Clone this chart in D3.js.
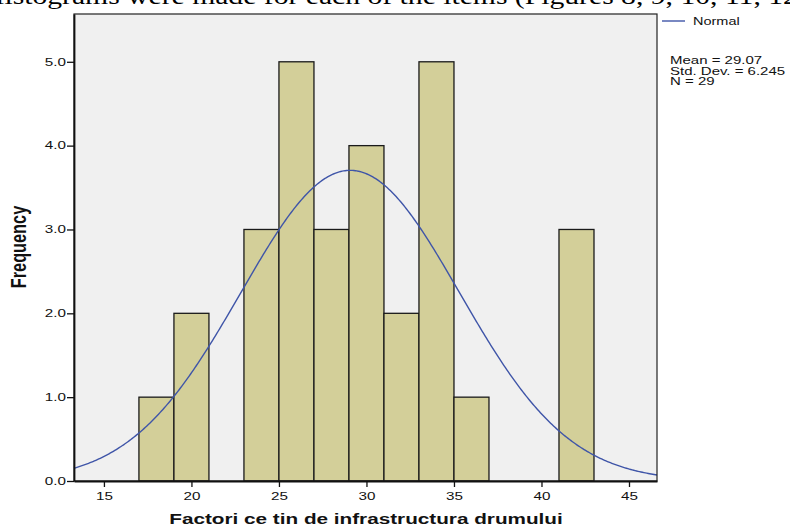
<!DOCTYPE html>
<html>
<head>
<meta charset="utf-8">
<script src="https://cdn.jsdelivr.net/npm/d3@7"></script>
<style>
  html, body { margin: 0; padding: 0; background: #fff; }
  svg { display: block; }
</style>
</head>
<body>
<svg id="chart" width="790" height="527"></svg>
<script>
// Histogram bins (lower edge, upper edge) and counts
const binStart = [17, 19, 23, 25, 27, 29, 31, 33, 35, 41];
const binEnd   = [19, 21, 25, 27, 29, 31, 33, 35, 37, 43];
const counts   = [1, 2, 3, 5, 3, 4, 2, 5, 1, 3];

// Summary statistics shown beside the plot
const mean = 29.07;
const stdDev = 6.245;
const n = 29;

const xTicks = [15, 20, 25, 30, 35, 40, 45];
const yTicks = [0, 1, 2, 3, 4, 5];

const xTitle = "Factori ce tin de infrastructura drumului";
const yTitle = "Frequency";
const legendLabel = "Normal";
const captionText = "Histograms were made for each of the items (Figures 8, 9, 10, 11, 12";

const stretch = 1.45; // horizontal stretch of the chart lettering

const svg = d3.select("#chart");
const plot = { left: 74, right: 657, top: 14, bottom: 481 };

const x = d3.scaleLinear().domain([13.29, 46.6]).range([plot.left, plot.right]);
const y = d3.scaleLinear().domain([0, 5.57]).range([plot.bottom, plot.top]);

// Body text line above the figure
svg.append("g")
  .attr("transform", "translate(-17,4) scale(1.236,1)")
  .append("text")
  .attr("font-family", "'Liberation Serif', 'Times New Roman', serif")
  .attr("font-size", 24)
  .attr("fill", "#000")
  .text(captionText);

// Plot background
svg.append("rect")
  .attr("x", plot.left).attr("y", plot.top)
  .attr("width", plot.right - plot.left).attr("height", plot.bottom - plot.top)
  .attr("fill", "#f0f0f0");

// Bars
const bins = counts.map((c, i) => ({ x0: binStart[i], x1: binEnd[i], count: c }));
svg.append("g").selectAll("rect").data(bins).join("rect")
  .attr("x", d => x(d.x0))
  .attr("y", d => y(d.count))
  .attr("width", d => x(d.x1) - x(d.x0))
  .attr("height", d => y(0) - y(d.count))
  .attr("fill", "#d3cf99")
  .attr("stroke", "#1a1a1a")
  .attr("stroke-width", 1.3);

// Normal curve scaled to the bin width and sample size
const binWidth = 2;
const normal = v => n * binWidth * Math.exp(-0.5 * ((v - mean) / stdDev) ** 2) / (stdDev * Math.sqrt(2 * Math.PI));
const curvePts = d3.range(0, 401).map(i => {
  const v = x.domain()[0] + (x.domain()[1] - x.domain()[0]) * i / 400;
  return [v, normal(v)];
});
svg.append("path")
  .datum(curvePts)
  .attr("fill", "none")
  .attr("stroke", "#3f55a8")
  .attr("stroke-width", 1.4)
  .attr("d", d3.line().x(d => x(d[0])).y(d => y(d[1])));

// Frame
svg.append("rect")
  .attr("x", plot.left).attr("y", plot.top)
  .attr("width", plot.right - plot.left).attr("height", plot.bottom - plot.top)
  .attr("fill", "none")
  .attr("stroke", "#222")
  .attr("stroke-width", 1.2);

const labelFont = "'Liberation Sans', Arial, sans-serif";

// Y axis
const yAxis = svg.append("g")
  .attr("transform", `translate(${plot.left},0)`)
  .call(d3.axisLeft(y).tickValues(yTicks).tickFormat(d3.format(".1f")).tickSize(7).tickSizeOuter(0));
yAxis.select(".domain").attr("stroke", "#111").attr("stroke-width", 1.8);
yAxis.selectAll(".tick line").attr("stroke", "#111").attr("stroke-width", 1.3);
yAxis.selectAll(".tick text")
  .attr("x", 0)
  .attr("transform", `translate(-8,0) scale(${stretch},1)`)
  .attr("font-family", labelFont)
  .attr("font-size", 10.5)
  .attr("fill", "#111");

// X axis
const xAxis = svg.append("g")
  .attr("transform", `translate(0,${plot.bottom})`)
  .call(d3.axisBottom(x).tickValues(xTicks).tickFormat(d3.format("d")).tickSize(6).tickSizeOuter(0));
xAxis.select(".domain").attr("stroke", "#111").attr("stroke-width", 1.8);
xAxis.selectAll(".tick line").attr("stroke", "#111").attr("stroke-width", 1.3);
xAxis.selectAll(".tick text")
  .attr("y", 0).attr("dy", 0)
  .attr("transform", `translate(0,19) scale(${stretch},1)`)
  .attr("font-family", labelFont)
  .attr("font-size", 10.5)
  .attr("fill", "#111");

// Axis titles
svg.append("g")
  .attr("transform", `translate(366,524) scale(1.48,1)`)
  .append("text")
  .attr("text-anchor", "middle")
  .attr("font-family", labelFont)
  .attr("font-weight", "bold")
  .attr("font-size", 14)
  .attr("fill", "#111")
  .text(xTitle);

svg.append("g")
  .attr("transform", `translate(26,247) scale(1.3,1)`)
  .append("text")
  .attr("transform", "rotate(-90)")
  .attr("text-anchor", "middle")
  .attr("font-family", labelFont)
  .attr("font-weight", "bold")
  .attr("font-size", 16.3)
  .attr("fill", "#111")
  .text(yTitle);

// Legend
svg.append("line")
  .attr("x1", 662).attr("x2", 685).attr("y1", 21).attr("y2", 21)
  .attr("stroke", "#3f55a8").attr("stroke-width", 1.4);
svg.append("g")
  .attr("transform", `translate(693,25) scale(${stretch},1)`)
  .append("text")
  .attr("font-family", labelFont).attr("font-size", 10)
  .attr("fill", "#111")
  .text(legendLabel);

// Summary statistics
const statLines = [
  `Mean = ${mean.toFixed(2)}`,
  `Std. Dev. = ${stdDev.toFixed(3)}`,
  `N = ${n}`
];
svg.append("g").selectAll("g").data(statLines).join("g")
  .attr("transform", (d, i) => `translate(670,${64 + i * 10.5}) scale(1.5,1)`)
  .append("text")
  .attr("font-family", labelFont).attr("font-size", 10)
  .attr("fill", "#111")
  .text(d => d);
</script>
</body>
</html>
